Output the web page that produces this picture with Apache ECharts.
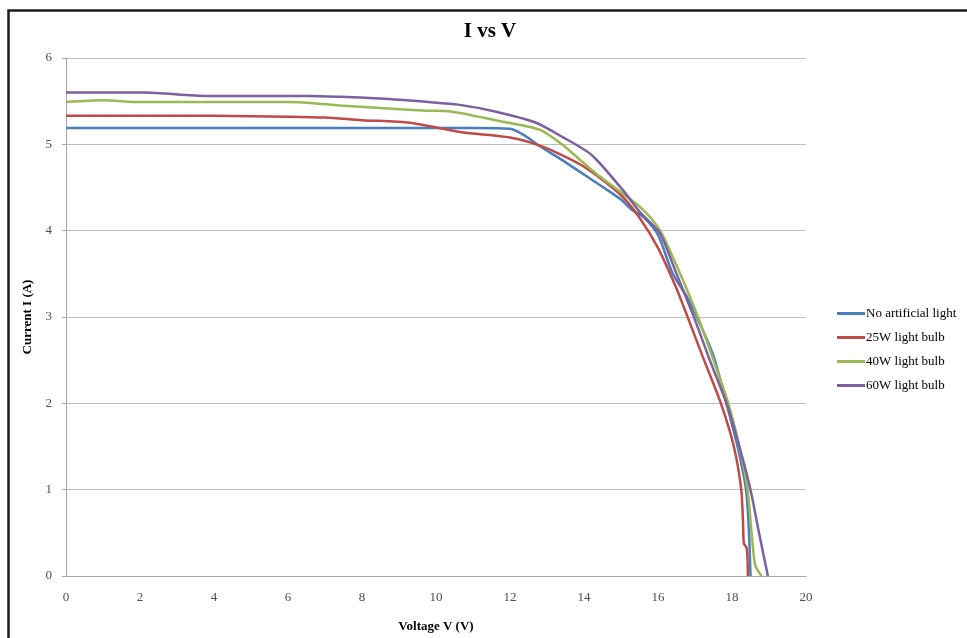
<!DOCTYPE html>
<html>
<head>
<meta charset="utf-8">
<script src="https://cdn.jsdelivr.net/npm/echarts@6/dist/echarts.min.js"></script>
<style>html,body{margin:0;padding:0;background:#fff;}#c{width:967px;height:638px;}</style>
</head>
<body>
<div id="c"></div>
<script>
// Data (Voltage V, Current I)
const seriesNames = ['No artificial light', '25W light bulb', '40W light bulb', '60W light bulb'];

const noLightV = [0, 2, 4, 6, 8, 10, 11, 12, 12.4, 12.8, 13.4, 14, 14.6, 15, 15.3, 15.6, 16, 16.4, 16.8, 17.05, 17.5, 17.85, 18.15, 18.38, 18.46, 18.5];
const noLightI = [5.19, 5.19, 5.19, 5.19, 5.19, 5.19, 5.19, 5.18, 5.1, 4.98, 4.82, 4.65, 4.48, 4.36, 4.24, 4.16, 3.95, 3.5, 3.22, 3.0, 2.55, 2.0, 1.5, 1.0, 0.5, 0];

const w25V = [0, 2, 4, 6, 7, 8, 9.3, 10.7, 12, 12.9, 14, 15, 15.5, 16, 16.5, 16.8, 17.2, 17.7, 18.05, 18.25, 18.3, 18.32, 18.4, 18.43];
const w25I = [5.33, 5.33, 5.33, 5.32, 5.31, 5.28, 5.25, 5.14, 5.08, 4.97, 4.74, 4.41, 4.15, 3.8, 3.33, 3.0, 2.55, 2.0, 1.5, 1.0, 0.6, 0.38, 0.32, 0];

const w40V = [0, 1, 2, 4, 6, 6.6, 7.4, 8.5, 9.75, 10.4, 11.6, 12.8, 13.4, 14.3, 15.2, 15.5, 15.8, 16.1, 16.6, 17.08, 17.5, 17.9, 18.2, 18.42, 18.55, 18.63, 18.8];
const w40I = [5.49, 5.51, 5.49, 5.49, 5.49, 5.48, 5.45, 5.42, 5.39, 5.38, 5.28, 5.17, 5.0, 4.67, 4.38, 4.28, 4.15, 3.97, 3.5, 3.0, 2.5, 2.0, 1.5, 1.0, 0.4, 0.12, 0];

const w60V = [0, 2.1, 3.8, 6.6, 7.4, 8.5, 9.8, 10.6, 11.6, 12.7, 13.4, 14.2, 15.05, 15.5, 16.05, 16.5, 16.97, 17.4, 17.85, 18.2, 18.5, 18.73, 18.97];
const w60I = [5.6, 5.6, 5.56, 5.56, 5.55, 5.53, 5.49, 5.46, 5.38, 5.25, 5.09, 4.88, 4.47, 4.22, 3.97, 3.5, 3.0, 2.5, 2.0, 1.5, 1.0, 0.5, 0];

const colors = ['#4a7ebb', '#be4b48', '#98b954', '#7d60a0'];

function pairs(v, i) { return v.map((x, k) => [x, i[k]]); }
const allData = [pairs(noLightV, noLightI), pairs(w25V, w25I), pairs(w40V, w40I), pairs(w60V, w60I)];

const serif = '"Liberation Serif", "DejaVu Serif", serif';

const chart = echarts.init(document.getElementById('c'), null, { renderer: 'canvas' });
chart.setOption({
  backgroundColor: '#ffffff',
  animation: false,
  title: {
    text: 'I vs V',
    left: 485, textAlign: 'center', top: 16,
    textStyle: { fontFamily: serif, fontWeight: 'bold', fontSize: 21, color: '#000' }
  },
  graphic: [{
    type: 'rect', left: 6, top: 8,
    shape: { x: 0, y: 0, width: 1100, height: 800 },
    style: { fill: 'none', stroke: '#1c1c1c', lineWidth: 2.5 },
    silent: true, z: 100
  }],
  legend: {
    orient: 'vertical', left: 832, top: 302,
    itemWidth: 28, itemHeight: 3, itemGap: 11,
    icon: 'rect',
    textStyle: { fontFamily: serif, fontSize: 13, color: '#000', padding: [0, 0, 0, -4] },
    data: seriesNames
  },
  grid: { left: 66, right: 161, top: 58, bottom: 61, containLabel: false },
  xAxis: {
    type: 'value', min: 0, max: 20, interval: 2,
    name: 'Voltage V (V)', nameLocation: 'middle', nameGap: 44,
    nameTextStyle: { fontFamily: serif, fontWeight: 'bold', fontSize: 13, color: '#000' },
    axisLine: { lineStyle: { color: '#a6a6a6', width: 1 } },
    axisTick: { show: false },
    axisLabel: { fontFamily: serif, fontSize: 13, color: '#4d4d4d', margin: 15 },
    splitLine: { show: false }
  },
  yAxis: {
    type: 'value', min: 0, max: 6, interval: 1,
    name: 'Current I (A)', nameLocation: 'middle', nameGap: 26, nameRotate: 90,
    nameTextStyle: { fontFamily: serif, fontWeight: 'bold', fontSize: 13, color: '#000' },
    axisLine: { show: true, lineStyle: { color: '#a6a6a6', width: 1 } },
    axisTick: { show: true, length: 4, lineStyle: { color: '#a6a6a6' } },
    axisLabel: { fontFamily: serif, fontSize: 13, color: '#4d4d4d', margin: 14 },
    splitLine: { show: true, lineStyle: { color: '#bfbfbf', width: 1 } }
  },
  series: allData.map((d, k) => ({
    name: seriesNames[k],
    type: 'line',
    data: d,
    smooth: 0.25,
    symbol: 'none',
    lineStyle: { color: colors[k], width: 2.5 },
    itemStyle: { color: colors[k] },
    z: 2 + k
  }))
});
</script>
</body>
</html>
